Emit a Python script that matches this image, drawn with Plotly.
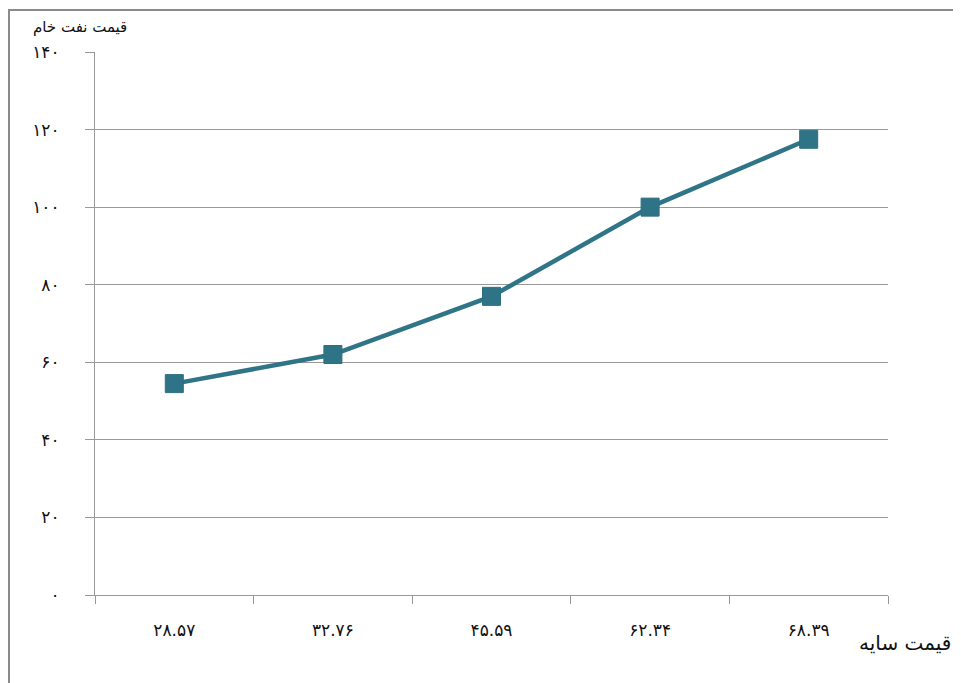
import plotly.graph_objects as go

categories = ["۲۸.۵۷", "۳۲.۷۶", "۴۵.۵۹", "۶۲.۳۴", "۶۸.۳۹"]
values = [54.5, 62.0, 77.0, 100.0, 117.5]
y_tickvals = [0, 20, 40, 60, 80, 100, 120, 140]
y_ticktext = ["۰", "۲۰", "۴۰", "۶۰", "۸۰", "۱۰۰", "۱۲۰", "۱۴۰"]
x_title = "قیمت سایه"
y_title = "قیمت نفت خام"

W, H = 961, 683
OFF = 8  # page body margin
L, R, T, B = 95 - OFF, 888 - OFF, 52 - OFF, 595 - OFF

def px(x):
    return (x - OFF - L) / (R - L)

def py(y):
    return (B - (y - OFF)) / (B - T)

fig = go.Figure()
fig.add_trace(go.Scatter(
    x=categories, y=values, mode="lines+markers",
    line=dict(color="#2F7587", width=4.5),
    marker=dict(symbol="square", size=18, color="#2E7486",
                line=dict(color="#2C6F80", width=1)),
    showlegend=False,
))

font_family = "DejaVu Sans"
fig.update_layout(
    width=W, height=H,
    margin=dict(l=L, r=W - R, t=T, b=H - B),
    paper_bgcolor="white", plot_bgcolor="white",
    font=dict(family=font_family, color="#111", size=16),
    xaxis=dict(
        type="category", tickson="boundaries",
        showgrid=False, showline=True, linecolor="#999", linewidth=1,
        ticks="outside", ticklen=8, tickcolor="#999",
        tickfont=dict(size=17), ticklabelstandoff=20,
        range=[-0.5, 4.5],
    ),
    yaxis=dict(
        range=[0, 140], tickvals=y_tickvals, ticktext=y_ticktext,
        showgrid=True, gridcolor="#999", gridwidth=1,
        showline=True, linecolor="#999", linewidth=1,
        ticks="outside", ticklen=9, tickcolor="#999",
        tickfont=dict(size=17), ticklabelstandoff=22,
        zeroline=False,
    ),
    shapes=[dict(
        type="rect", xref="paper", yref="paper",
        x0=px(9), x1=px(1000), y0=py(720), y1=py(10),
        line=dict(color="#8a8a8a", width=2), fillcolor="rgba(0,0,0,0)",
        layer="below",
    )],
    annotations=[
        dict(text=y_title, xref="paper", yref="paper", x=px(80), y=py(27),
             xanchor="center", yanchor="middle", showarrow=False,
             font=dict(size=15, family=font_family, color="#111")),
        dict(text=x_title, xref="paper", yref="paper", x=px(857), y=py(643),
             xanchor="left", yanchor="middle", showarrow=False,
             font=dict(size=20, family=font_family, color="#111")),
    ],
)

fig.write_html("out.html")
